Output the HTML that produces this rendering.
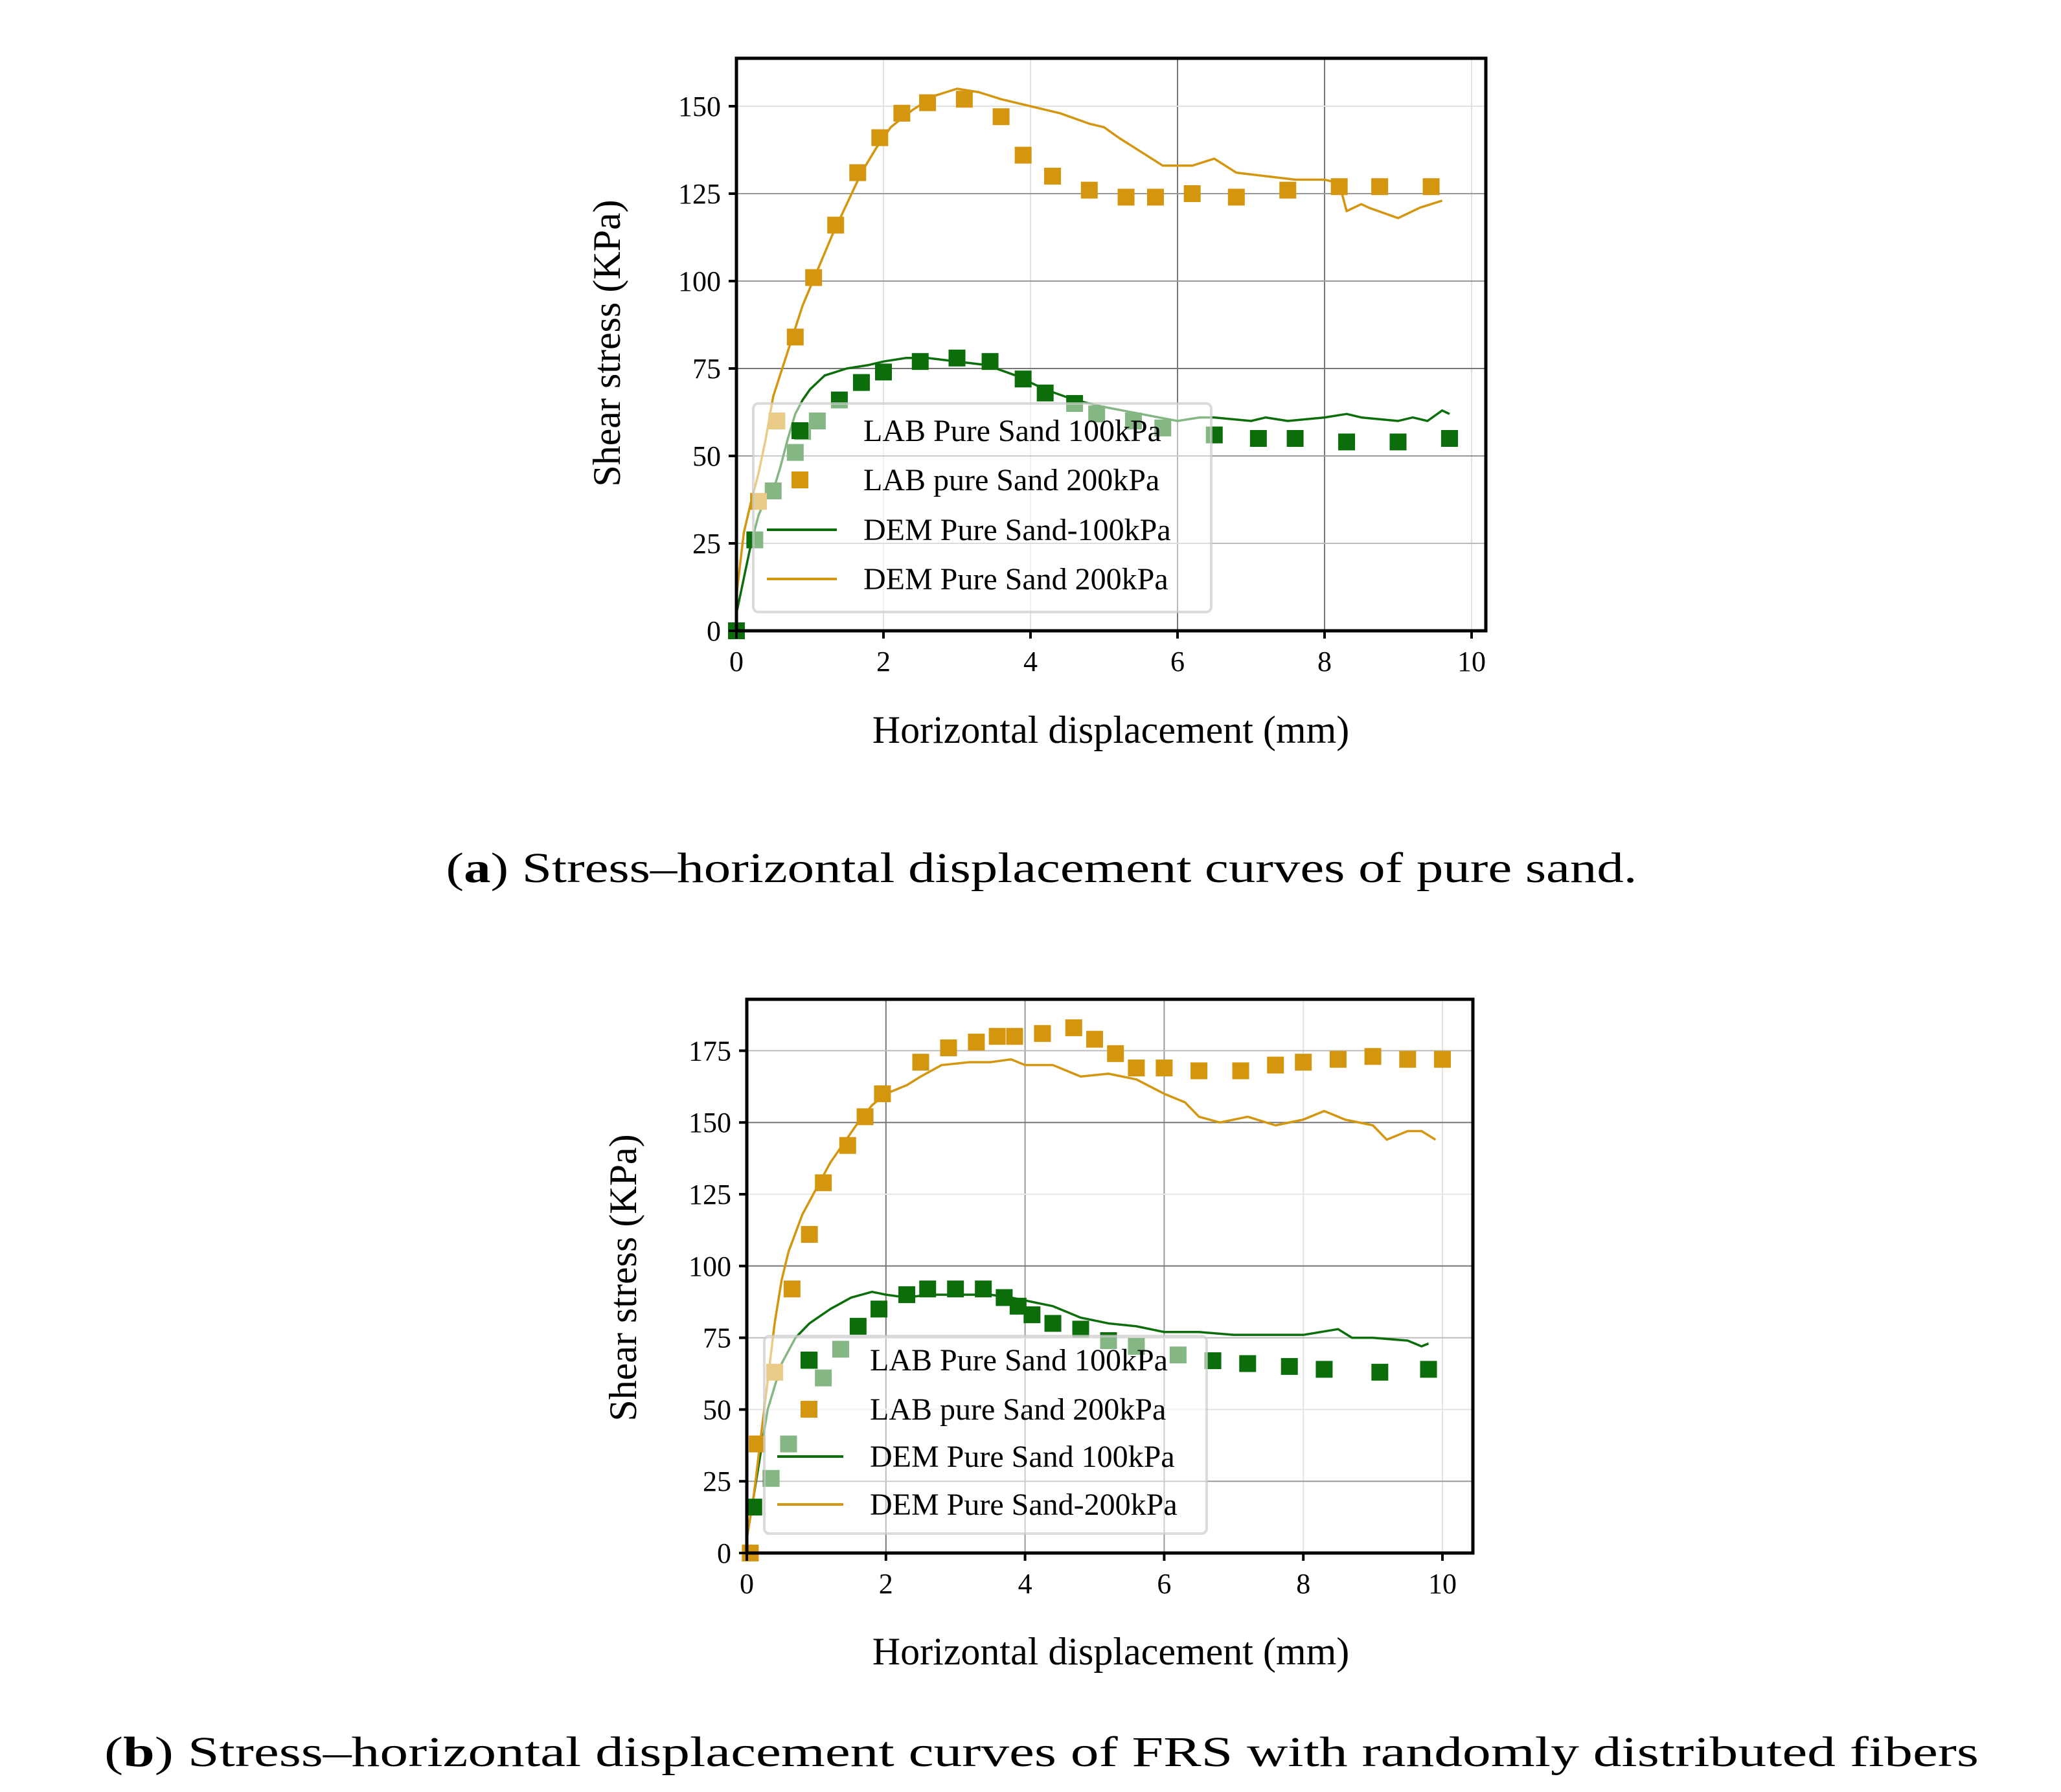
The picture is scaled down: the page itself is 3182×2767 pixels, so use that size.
<!DOCTYPE html>
<html><head><meta charset="utf-8"><style>
html,body{margin:0;padding:0;background:#fff;}
svg{display:block;font-family:"Liberation Serif",serif;}
</style></head><body>
<svg id="fig" width="3182" height="2767" viewBox="0 0 3182 2767" xmlns="http://www.w3.org/2000/svg">
<rect width="3182" height="2767" fill="#fff"/>
<text x="1608" y="1362" font-size="66" text-anchor="middle" textLength="1839" lengthAdjust="spacingAndGlyphs">(<tspan font-weight="bold">a</tspan>) Stress–horizontal displacement curves of pure sand.</text>
<text x="1608" y="2727" font-size="66" text-anchor="middle" textLength="2894" lengthAdjust="spacingAndGlyphs">(<tspan font-weight="bold">b</tspan>) Stress–horizontal displacement curves of FRS with randomly distributed fibers</text>
</svg>
<script>
// ---- Chart A data ----
const xTicks = [0,2,4,6,8,10];
const yTicksA = [0,25,50,75,100,125,150];
const labA100x = [0,0.25,0.5,0.8,0.9,1.1,1.4,1.7,2,2.5,3,3.45,3.9,4.2,4.6,4.9,5.4,5.8,6.5,7.1,7.6,8.3,9,9.7];
const labA100y = [0,26,40,51,57,60,66,71,74,77,78,77,72,68,65,62,60,58,56,55,55,54,54,55];
const labA200x = [0.3,0.55,0.8,1.05,1.35,1.65,1.95,2.25,2.6,3.1,3.6,3.9,4.3,4.8,5.3,5.7,6.2,6.8,7.5,8.2,8.75,9.45];
const labA200y = [37,60,84,101,116,131,141,148,151,152,147,136,130,126,124,124,125,124,126,127,127,127];
const demA100x = [0,0.1,0.2,0.3,0.4,0.5,0.6,0.7,0.8,0.9,1,1.2,1.5,1.8,2,2.3,2.6,3,3.4,3.8,4.2,4.6,5,5.5,6,6.3,6.5,7,7.2,7.5,8,8.3,8.5,9,9.2,9.4,9.6,9.7];
const demA100y = [5,15,25,33,38,40,47,55,62,66,69,73,75,76,77,78,78,77,76,73,69,66,64,62,60,61,61,60,61,60,61,62,61,60,61,60,63,62];
const demA200x = [0,0.1,0.2,0.3,0.4,0.5,0.7,0.9,1.1,1.3,1.5,1.7,1.9,2.1,2.4,2.7,3,3.3,3.6,4,4.2,4.4,4.8,5,5.2,5.5,5.8,6.2,6.5,6.8,7.2,7.6,8,8.2,8.3,8.5,8.6,9,9.3,9.6];
const demA200y = [10,28,37,45,55,67,80,93,103,113,122,131,138,144,149,153,155,154,152,150,149,148,145,144,141,137,133,133,135,131,130,129,129,128,120,122,121,118,121,123];
// ---- Chart B data ----
const yTicksB = [0,25,50,75,100,125,150,175];
const labB100x = [0.1,0.35,0.6,0.9,1.1,1.35,1.6,1.9,2.3,2.6,3,3.4,3.7,3.9,4.1,4.4,4.8,5.2,5.6,6.2,6.7,7.2,7.8,8.3,9.1,9.8];
const labB100y = [16,26,38,67,61,71,79,85,90,92,92,92,89,86,83,80,78,74,72,69,67,66,65,64,63,64];
const labB200x = [0.05,0.15,0.4,0.65,0.9,1.1,1.45,1.7,1.95,2.5,2.9,3.3,3.6,3.85,4.25,4.7,5,5.3,5.6,6,6.5,7.1,7.6,8,8.5,9,9.5,10];
const labB200y = [0,38,63,92,111,129,142,152,160,171,176,178,180,180,181,183,179,174,169,169,168,168,170,171,172,173,172,172];
const demB100x = [0,0.1,0.2,0.3,0.4,0.5,0.7,0.9,1.2,1.5,1.8,2,2.3,2.6,3,3.5,3.8,4,4.4,4.8,5.2,5.6,6,6.5,7,7.5,8,8.5,8.7,9,9.5,9.7,9.8];
const demB100y = [5,20,35,50,58,66,75,80,85,89,91,90,89,90,90,90,89,88,86,82,80,79,77,77,76,76,76,78,75,75,74,72,73];
const demB200x = [0,0.1,0.2,0.3,0.4,0.5,0.6,0.8,1,1.2,1.4,1.6,1.8,2,2.3,2.5,2.8,3.2,3.5,3.8,4,4.4,4.8,5.2,5.6,6,6.3,6.5,6.8,7.2,7.6,8,8.3,8.6,9,9.2,9.5,9.7,9.9];
const demB200y = [5,20,40,60,80,95,105,118,127,136,143,150,156,160,163,166,170,171,171,172,170,170,166,167,165,160,157,152,150,152,149,151,154,151,149,144,147,147,144];

const NS = 'http://www.w3.org/2000/svg';
const svg = document.getElementById('fig');
const ORANGE = '#d4960f', GREEN = '#0b6e0b';
function mk(tag, attrs, parent){ const e=document.createElementNS(NS,tag); for(const k in attrs) e.setAttribute(k,attrs[k]); (parent||svg).appendChild(e); return e; }

function chart(cfg){
  const g = mk('g',{});
  
  
  const X = v => cfg.x0 + v*(cfg.x10-cfg.x0)/10;
  const Y = v => cfg.y0 - v*cfg.per25/25;
  xTicks.forEach((t,i)=>{ if(t===0) return;
    const l = mk('line',{x1:X(t),x2:X(t),y1:cfg.top,y2:cfg.bottom,stroke:cfg.vgrid[i],'stroke-width':2},g);
    
    
  });
  cfg.yTicks.forEach((t,i)=>{ if(t===0) return;
    const l = mk('line',{x1:cfg.left,x2:cfg.right,y1:Y(t),y2:Y(t),stroke:cfg.hgrid[i],'stroke-width':2},g);
    
    
  });
  [[cfg.d100x,cfg.d100y,GREEN,'dem-100kpa-line'],[cfg.d200x,cfg.d200y,ORANGE,'dem-200kpa-line']].forEach(s=>{
    const p = mk('polyline',{points:s[0].map((v,i)=>X(v)+','+Y(s[1][i])).join(' '),fill:'none',stroke:s[2],'stroke-width':3.5,'stroke-linejoin':'round'},g);
    
    
  });
  [[cfg.l100x,cfg.l100y,GREEN,'lab-100kpa-point'],[cfg.l200x,cfg.l200y,ORANGE,'lab-200kpa-point']].forEach(s=>{
    s[0].forEach((v,i)=>{
      const r = mk('rect',{x:X(v)-13,y:Y(s[1][i])-13,width:26,height:26,fill:s[2]},g);
      
      
    });
  });
  const L = cfg.leg;
  const lg = mk('g',{},g);
  
  
  mk('rect',{x:L.x,y:L.y,width:L.w,height:L.h,rx:8,fill:'#fff','fill-opacity':0.5,stroke:'#ccc','stroke-opacity':0.7,'stroke-width':4},lg);
  L.labels.forEach((txt,i)=>{
    const yy = L.rows[i];
    if(i<2){
      const r = mk('rect',{x:L.mx-13,y:yy-13,width:26,height:26,fill:i===0?GREEN:ORANGE},lg);
      
      
    } else {
      const l = mk('line',{x1:L.lx1,x2:L.lx2,y1:yy,y2:yy,stroke:i===2?GREEN:ORANGE,'stroke-width':4},lg);
      
      
    }
    const t = mk('text',{x:L.tx,y:yy+16,'font-size':48},lg);
    t.textContent = txt;
    
    
  });
  const f = mk('rect',{x:cfg.left,y:cfg.top,width:cfg.right-cfg.left,height:cfg.bottom-cfg.top,fill:'none',stroke:'#000','stroke-width':5},g);
  
  
  xTicks.forEach(t=>{
    mk('line',{x1:X(t),x2:X(t),y1:cfg.bottom,y2:cfg.bottom+12,stroke:'#000','stroke-width':4},g);
    const tx = mk('text',{x:X(t),y:cfg.bottom+62,'font-size':44,'text-anchor':'middle'},g);
    tx.textContent = t;
    
    
  });
  cfg.yTicks.forEach(t=>{
    mk('line',{x1:cfg.left-12,x2:cfg.left,y1:Y(t),y2:Y(t),stroke:'#000','stroke-width':4},g);
    const tx = mk('text',{x:cfg.left-24,y:Y(t)+15,'font-size':44,'text-anchor':'end'},g);
    tx.textContent = t;
    
    
  });
  const xl = mk('text',{x:cfg.xlab[0],y:cfg.xlab[1],'font-size':60,'text-anchor':'middle'},g);
  xl.textContent = 'Horizontal displacement (mm)';
  
  
  const yl = mk('text',{x:0,y:0,'font-size':60,'text-anchor':'middle',transform:`translate(${cfg.ylab[0]},${cfg.ylab[1]}) rotate(-90)`},g);
  yl.textContent = 'Shear stress (KPa)';
  
  
}

chart({name:'chart-a',left:1137,right:2294,top:90,bottom:974,x0:1137,x10:2272,y0:974,per25:135,yTicks:yTicksA,
  vgrid:['','#e2e2e2','#e2e2e2','#777','#777','#e2e2e2'],
  hgrid:['','#bbb','#999','#777','#999','#999','#e2e2e2'],
  l100x:labA100x,l100y:labA100y,l200x:labA200x,l200y:labA200y,d100x:demA100x,d100y:demA100y,d200x:demA200x,d200y:demA200y,
  leg:{x:1163,y:623,w:707,h:322,mx:1235,lx1:1184,lx2:1292,tx:1333,rows:[665,741,818,894],
    labels:['LAB Pure Sand 100kPa','LAB pure Sand 200kPa','DEM Pure Sand-100kPa','DEM Pure Sand 200kPa']},
  xlab:[1715,1147],ylab:[957,530]});

chart({name:'chart-b',left:1153,right:2274,top:1543,bottom:2398,x0:1153,x10:2227,y0:2398,per25:110.8,yTicks:yTicksB,
  vgrid:['','#777','#999','#999','#e2e2e2','#e2e2e2'],
  hgrid:['','#999','#e2e2e2','#bbb','#777','#e8e8e8','#777','#bbb'],
  l100x:labB100x,l100y:labB100y,l200x:labB200x,l200y:labB200y,d100x:demB100x,d100y:demB100y,d200x:demB200x,d200y:demB200y,
  leg:{x:1180,y:2063,w:683,h:305,mx:1249,lx1:1200,lx2:1302,tx:1343,rows:[2100,2176,2249,2323],
    labels:['LAB Pure Sand 100kPa','LAB pure Sand 200kPa','DEM Pure Sand 100kPa','DEM Pure Sand-200kPa']},
  xlab:[1715,2570],ylab:[982,1973]});
</script>
</body></html>
